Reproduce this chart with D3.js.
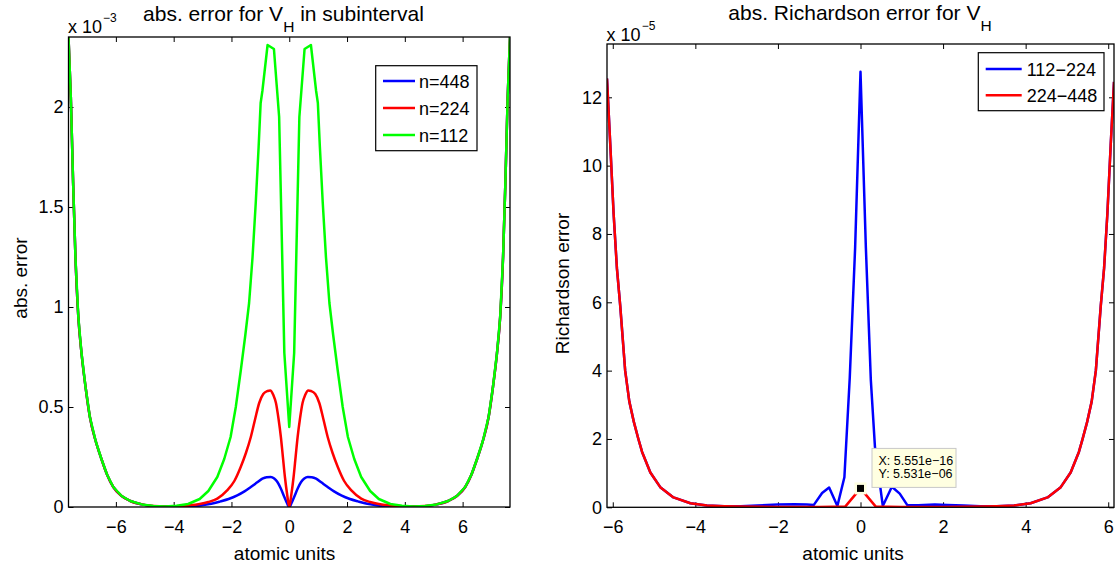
<!DOCTYPE html>
<html>
<head>
<meta charset="utf-8">
<script src="https://cdn.jsdelivr.net/npm/d3@7"></script>
<style>
    body { margin: 0; background: #fff; }
    svg text { font-family: "Liberation Sans", Arial, Helvetica, sans-serif; fill: #000; }
</style>
</head>
<body>
<svg id="chart" width="1117" height="563"></svg>
<script>
    // ---- data (left panel in units of 1e-3, right panel in units of 1e-5) ----
    var xTicks = [-6, -4, -2, 0, 2, 4, 6];
    var leftYTicks = [0, 0.5, 1, 1.5, 2];
    var rightYTicks = [0, 2, 4, 6, 8, 10, 12];

    // n=112
    var x112 = [-7.64, -7.56, -7.48, -7.40, -7.30, -7.19, -7.05, -6.90, -6.70, -6.50, -6.30, -6.09, -5.80, -5.50, -5.10, -4.70, -4.30, -3.90, -3.50, -3.10, -2.80, -2.49, -2.25, -2.03, -1.85, -1.68, -1.52, -1.39, -1.27, -1.16, -1.06, -0.99, -0.93, -0.75, -0.53, -0.35, -0.17, 0,
        0.17, 0.35, 0.53, 0.75, 0.93, 0.99, 1.06, 1.16, 1.27, 1.39, 1.52, 1.68, 1.85, 2.03, 2.25, 2.49, 2.80, 3.10, 3.50, 3.90, 4.30, 4.70, 5.10, 5.50, 5.80, 6.09, 6.30, 6.50, 6.70, 6.90, 7.05, 7.19, 7.30, 7.40, 7.48, 7.56, 7.64];
    var y112 = [2.35, 2.05, 1.62, 1.25, 0.95, 0.77, 0.60, 0.45, 0.33, 0.24, 0.16, 0.10, 0.055, 0.03, 0.013, 0.005, 0.003, 0.006, 0.015, 0.04, 0.08, 0.15, 0.24, 0.35, 0.50, 0.68, 0.86, 1.02, 1.25, 1.52, 1.80, 2.02, 2.08, 2.31, 2.29, 1.95, 0.77, 0.40,
        0.77, 1.95, 2.29, 2.31, 2.08, 2.02, 1.80, 1.52, 1.25, 1.02, 0.86, 0.68, 0.50, 0.35, 0.24, 0.15, 0.08, 0.04, 0.015, 0.006, 0.003, 0.005, 0.013, 0.03, 0.055, 0.10, 0.16, 0.24, 0.33, 0.45, 0.60, 0.77, 0.95, 1.25, 1.62, 2.05, 2.35];

    // n=224
    var x224 = [-7.64, -7.56, -7.48, -7.40, -7.30, -7.19, -7.05, -6.90, -6.70, -6.50, -6.30, -6.09, -5.80, -5.50, -5.10, -4.70, -4.30, -3.90, -3.50, -3.10, -2.80, -2.49, -2.15, -1.90, -1.68, -1.50, -1.33, -1.18, -1.04, -0.90, -0.75, -0.66, -0.55, -0.46, -0.37, -0.29, -0.22, -0.15, -0.07, 0,
        0.07, 0.15, 0.22, 0.29, 0.37, 0.46, 0.55, 0.66, 0.75, 0.90, 1.04, 1.18, 1.33, 1.50, 1.68, 1.90, 2.15, 2.49, 2.80, 3.10, 3.50, 3.90, 4.30, 4.70, 5.10, 5.50, 5.80, 6.09, 6.30, 6.50, 6.70, 6.90, 7.05, 7.19, 7.30, 7.40, 7.48, 7.56, 7.64];
    var y224 = [2.35, 2.05, 1.62, 1.25, 0.95, 0.77, 0.60, 0.45, 0.33, 0.24, 0.16, 0.10, 0.055, 0.03, 0.013, 0.005, 0.003, 0.004, 0.008, 0.015, 0.025, 0.042, 0.083, 0.13, 0.20, 0.27, 0.35, 0.44, 0.52, 0.565, 0.58, 0.583, 0.56, 0.52, 0.44, 0.35, 0.25, 0.15, 0.06, 0,
        0.06, 0.15, 0.25, 0.35, 0.44, 0.52, 0.56, 0.583, 0.58, 0.565, 0.52, 0.44, 0.35, 0.27, 0.20, 0.13, 0.083, 0.042, 0.025, 0.015, 0.008, 0.004, 0.003, 0.005, 0.013, 0.03, 0.055, 0.10, 0.16, 0.24, 0.33, 0.45, 0.60, 0.77, 0.95, 1.25, 1.62, 2.05, 2.35];

    // n=448
    var x448 = [-7.64, -7.56, -7.48, -7.40, -7.30, -7.19, -7.05, -6.90, -6.70, -6.50, -6.30, -6.09, -5.80, -5.50, -5.10, -4.70, -4.30, -3.90, -3.50, -3.07, -2.70, -2.38, -2.10, -1.80, -1.55, -1.33, -1.12, -0.93, -0.78, -0.64, -0.52, -0.41, -0.30, -0.17, -0.08, 0,
        0.08, 0.17, 0.30, 0.41, 0.52, 0.64, 0.78, 0.93, 1.12, 1.33, 1.55, 1.80, 2.10, 2.38, 2.70, 3.07, 3.50, 3.90, 4.30, 4.70, 5.10, 5.50, 5.80, 6.09, 6.30, 6.50, 6.70, 6.90, 7.05, 7.19, 7.30, 7.40, 7.48, 7.56, 7.64];
    var y448 = [2.35, 2.05, 1.62, 1.25, 0.95, 0.77, 0.60, 0.45, 0.33, 0.24, 0.16, 0.10, 0.055, 0.03, 0.013, 0.004, 0.002, 0.002, 0.004, 0.008, 0.016, 0.028, 0.04, 0.058, 0.078, 0.10, 0.122, 0.142, 0.149, 0.15, 0.142, 0.125, 0.095, 0.05, 0.02, 0,
        0.02, 0.05, 0.095, 0.125, 0.142, 0.15, 0.149, 0.142, 0.122, 0.10, 0.078, 0.058, 0.04, 0.028, 0.016, 0.008, 0.004, 0.002, 0.002, 0.004, 0.013, 0.03, 0.055, 0.10, 0.16, 0.24, 0.33, 0.45, 0.60, 0.77, 0.95, 1.25, 1.62, 2.05, 2.35];

    // Richardson 112-224
    var xR1 = [-6.14, -6.06, -5.98, -5.90, -5.82, -5.70, -5.60, -5.49, -5.38, -5.29, -5.09, -4.85, -4.53, -4.12, -3.72, -3.30, -2.90, -2.50, -2.00, -1.60, -1.30, -1.13, -0.93, -0.76, -0.56, -0.39, -0.26, -0.13, 0,
        0.13, 0.25, 0.35, 0.54, 0.76, 0.95, 1.13, 1.40, 1.80, 2.10, 2.50, 2.90, 3.30, 3.72, 4.12, 4.53, 4.85, 5.09, 5.29, 5.38, 5.49, 5.60, 5.70, 5.82, 5.90, 5.98, 6.06, 6.14];
    var yR1 = [12.55, 10.6, 8.6, 7.0, 5.9, 4.0, 3.1, 2.5, 2.0, 1.62, 1.02, 0.59, 0.29, 0.12, 0.05, 0.03, 0.03, 0.05, 0.08, 0.09, 0.08, 0.07, 0.42, 0.58, 0.04, 0.88, 3.8, 7.6, 12.75,
        7.6, 3.73, 1.77, 0.04, 0.6, 0.40, 0.07, 0.06, 0.08, 0.07, 0.05, 0.03, 0.03, 0.05, 0.12, 0.29, 0.59, 1.02, 1.62, 2.0, 2.5, 3.1, 4.0, 5.9, 7.0, 8.6, 10.6, 12.45];

    // Richardson 224-448
    var xR2 = [-6.14, -6.06, -5.98, -5.90, -5.82, -5.70, -5.60, -5.49, -5.38, -5.29, -5.09, -4.85, -4.53, -4.12, -3.72, -3.30, -2.90, -2.00, -1.00, -0.37, 0,
        0.37, 1.00, 2.00, 2.90, 3.30, 3.72, 4.12, 4.53, 4.85, 5.09, 5.29, 5.38, 5.49, 5.60, 5.70, 5.82, 5.90, 5.98, 6.06, 6.14];
    var yR2 = [12.55, 10.6, 8.6, 7.0, 5.9, 4.0, 3.1, 2.5, 2.0, 1.62, 1.02, 0.59, 0.29, 0.12, 0.05, 0.03, 0.02, 0.01, 0.01, 0.02, 0.553,
        0.02, 0.01, 0.01, 0.02, 0.03, 0.05, 0.12, 0.29, 0.59, 1.02, 1.62, 2.0, 2.5, 3.1, 4.0, 5.9, 7.0, 8.6, 10.6, 12.45];

    var tipX = 0, tipY = 0.5531;

    // ---- drawing ----
    var svg = d3.select("#chart");
    var fmt = d3.format("~g");

    function drawPanel(id, box, xDomain, yDomain, yTicks, series) {
        var xs = d3.scaleLinear().domain(xDomain).range([box.x0, box.x1]);
        var ys = d3.scaleLinear().domain(yDomain).range([box.y1, box.y0]);
        var g = svg.append("g").attr("id", id);

        g.append("clipPath").attr("id", id + "-clip")
            .append("rect")
            .attr("x", box.x0).attr("y", box.y0)
            .attr("width", box.x1 - box.x0).attr("height", box.y1 - box.y0);

        var axes = [
            [d3.axisBottom(xs).tickValues(xTicks).tickFormat(fmt).tickPadding(13), "translate(0," + box.y1 + ")"],
            [d3.axisTop(xs).tickValues(xTicks).tickFormat(""), "translate(0," + box.y0 + ")"],
            [d3.axisLeft(ys).tickValues(yTicks).tickFormat(fmt).tickPadding(5), "translate(" + box.x0 + ",0)"],
            [d3.axisRight(ys).tickValues(yTicks).tickFormat(""), "translate(" + box.x1 + ",0)"]
        ];
        axes.forEach(function (a) {
            var ag = g.append("g")
                .attr("transform", a[1])
                .call(a[0].tickSizeInner(-5).tickSizeOuter(0));
            ag.select(".domain").remove();
            ag.selectAll("line").attr("stroke", "#000").attr("stroke-width", 1);
            ag.selectAll("text").attr("font-size", 18).attr("font-family", null);
        });

        var line = d3.line()
            .x((d) => xs(d[0]))
            .y((d) => ys(d[1]));

        series.forEach(function (s) {
            g.append("path")
                .datum(d3.zip(s.x, s.y))
                .attr("clip-path", "url(#" + id + "-clip)")
                .attr("fill", "none")
                .attr("stroke", s.color)
                .attr("stroke-width", 2.5)
                .attr("stroke-linejoin", "round")
                .attr("d", line.curve(s.curve || d3.curveLinear));
        });

        g.append("rect")
            .attr("x", box.x0).attr("y", box.y0)
            .attr("width", box.x1 - box.x0).attr("height", box.y1 - box.y0)
            .attr("fill", "none").attr("stroke", "#000").attr("stroke-width", 1.3);

        return { xs: xs, ys: ys, g: g };
    }

    function legend(g, x, y, w, h, items, lineX0, lineX1, textX, rowYs) {
        g.append("rect").attr("x", x).attr("y", y).attr("width", w).attr("height", h)
            .attr("fill", "#fff").attr("stroke", "#000").attr("stroke-width", 1.2);
        items.forEach(function (it, i) {
            g.append("line")
                .attr("x1", lineX0).attr("x2", lineX1)
                .attr("y1", rowYs[i]).attr("y2", rowYs[i])
                .attr("stroke", it.color).attr("stroke-width", 2.5);
            g.append("text")
                .attr("x", textX).attr("y", rowYs[i] + 6.5)
                .attr("font-size", 18)
                .text(it.label);
        });
    }

    function sciLabel(x, y, exp) {
        var t = svg.append("text").attr("x", x).attr("y", y).attr("font-size", 18).text("x 10");
        t.append("tspan").attr("font-size", 12).attr("dy", -11).attr("dx", 1).text(exp);
    }

    function title(cx, y, before, sub, after) {
        var t = svg.append("text").attr("x", cx).attr("y", y)
            .attr("text-anchor", "middle").attr("font-size", 21)
            .text(before);
        t.append("tspan").attr("font-size", 15.5).attr("dy", 11).text(sub);
        if (after) t.append("tspan").attr("dy", -11).text(after);
    }

    // left panel
    var L = drawPanel("left", { x0: 68.5, x1: 510, y0: 37, y1: 507 }, [-7.64, 7.64], [0, 2.35], leftYTicks, [
        { x: x448, y: y448, color: "#0000ff", curve: d3.curveMonotoneX },
        { x: x224, y: y224, color: "#ff0000", curve: d3.curveMonotoneX },
        { x: x112, y: y112, color: "#00ff00" }
    ]);
    legend(L.g, 375.7, 65.7, 101.3, 85, [
        { label: "n=448", color: "#0000ff" },
        { label: "n=224", color: "#ff0000" },
        { label: "n=112", color: "#00ff00" }
    ], 383, 415, 419, [81, 108, 135]);

    // right panel
    var R = drawPanel("right", { x0: 607, x1: 1114, y0: 44, y1: 507.3 }, [-6.14, 6.14], [0, 13.56], rightYTicks, [
        { x: xR1, y: yR1, color: "#0000ff" },
        { x: xR2, y: yR2, color: "#ff0000" }
    ]);
    legend(R.g, 978.3, 52.7, 125.7, 58, [
        { label: "112\u2212224", color: "#0000ff" },
        { label: "224\u2212448", color: "#ff0000" }
    ], 985.7, 1021.7, 1026.7, [69, 95.3]);

    // data tip
    var px = R.xs(tipX), py = R.ys(tipY);
    R.g.append("rect").attr("x", px - 6).attr("y", py - 6).attr("width", 12).attr("height", 12)
        .attr("fill", "#ffffe1");
    R.g.append("rect").attr("x", px - 3.5).attr("y", py - 3.5).attr("width", 7).attr("height", 7)
        .attr("fill", "#000");
    R.g.append("rect").attr("x", px + 11.5).attr("y", py - 40).attr("width", 84).attr("height", 39)
        .attr("fill", "#ffffe1").attr("stroke", "#c8c8c8").attr("stroke-width", 1);
    R.g.append("text").attr("x", px + 18).attr("y", py - 23.5).attr("font-size", 12.5)
        .text("X: 5.551e\u221216");
    R.g.append("text").attr("x", px + 18).attr("y", py - 10.8).attr("font-size", 12.5)
        .text("Y: 5.531e\u221206");

    // texts
    sciLabel(68, 33, "\u22123");
    sciLabel(606.6, 41.4, "\u22125");
    title(283.5, 20.7, "abs. error for V", "H", " in subinterval");
    title(860, 20.3, "abs. Richardson error for V", "H", null);

    svg.append("text").attr("x", 284.5).attr("y", 560).attr("text-anchor", "middle")
        .attr("font-size", 19).text("atomic units");
    svg.append("text").attr("x", 853).attr("y", 560).attr("text-anchor", "middle")
        .attr("font-size", 19).text("atomic units");
    svg.append("text").attr("transform", "translate(27,278) rotate(-90)").attr("text-anchor", "middle")
        .attr("font-size", 19).text("abs. error");
    svg.append("text").attr("transform", "translate(569,283.5) rotate(-90)").attr("text-anchor", "middle")
        .attr("font-size", 19).text("Richardson error");
</script>
</body>
</html>
